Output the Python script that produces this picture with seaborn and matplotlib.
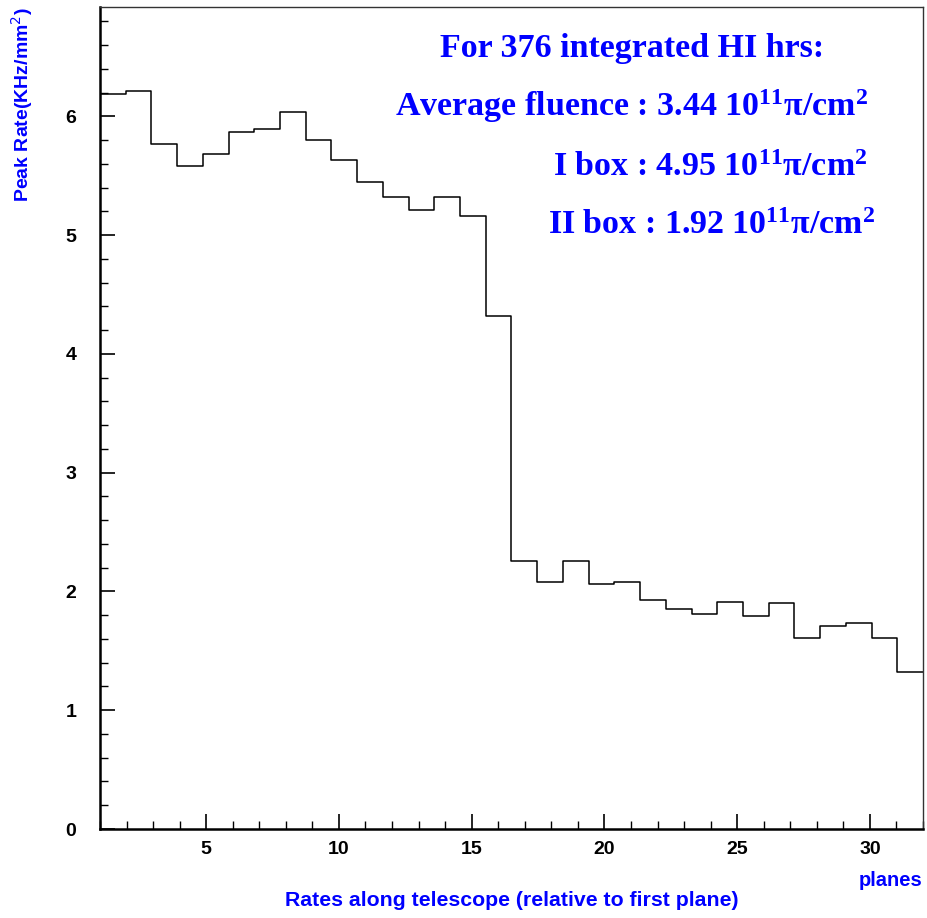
import numpy as np
import pandas as pd
import matplotlib
matplotlib.use("Agg")
import matplotlib.pyplot as plt
import seaborn as sns
from matplotlib.ticker import MultipleLocator

# ---- data ----
x_min, x_max = 1, 32
n_bins = 32
rates = [6.19, 6.21, 5.77, 5.58, 5.68, 5.87, 5.89, 6.04, 5.80, 5.63,
         5.45, 5.32, 5.21, 5.32, 5.16, 4.32, 2.26, 2.08, 2.26, 2.06,
         2.08, 1.93, 1.85, 1.81, 1.91, 1.79, 1.90, 1.61, 1.71, 1.73,
         1.61, 1.32]
x_ticks = [5, 10, 15, 20, 25, 30]
y_ticks = [0, 1, 2, 3, 4, 5, 6]
info_lines = ["For 376 integrated HI hrs:",
              "Average fluence : 3.44 10$^{11}$π/cm$^{2}$",
              "I box : 4.95 10$^{11}$π/cm$^{2}$",
              "II box : 1.92 10$^{11}$π/cm$^{2}$"]

edges = np.linspace(x_min, x_max, n_bins + 1)
centers = (edges[:-1] + edges[1:]) / 2
df = pd.DataFrame({"plane": centers, "rate": rates})

sns.set_style("ticks")
plt.rcParams["mathtext.fontset"] = "custom"
plt.rcParams["mathtext.rm"] = "Liberation Serif:bold"
plt.rcParams["mathtext.it"] = "Liberation Serif:bold"
plt.rcParams["mathtext.bf"] = "Liberation Serif:bold"
plt.rcParams["mathtext.default"] = "rm"

W, H = 927, 918
fig = plt.figure(figsize=(W / 100, H / 100), dpi=100)
ax = fig.add_axes([100 / W, 1 - 829 / H, (923 - 100) / W, (829 - 7) / H])

sns.histplot(data=df, x="plane", weights="rate", bins=edges.tolist(), element="step",
             fill=False, color="black", linewidth=1.1, ax=ax)

ax.set_xlim(x_min, x_max)
ax.set_ylim(0, 6.92)
ax.set_xticks(x_ticks)
ax.set_yticks(y_ticks)
ax.xaxis.set_minor_locator(MultipleLocator(1))
ax.yaxis.set_minor_locator(MultipleLocator(0.2))
ax.tick_params(axis="both", which="major", direction="in", length=11, width=1.2,
               labelsize=14, pad=9, color="black", labelcolor="black")
ax.tick_params(axis="both", which="minor", direction="in", length=5.5, width=1,
               color="black")
for lab in ax.get_xticklabels() + ax.get_yticklabels():
    lab.set_fontweight("bold")
    lab.set_fontfamily("Liberation Sans")
ax.tick_params(axis="y", pad=17)
for s in ["left", "bottom"]:
    ax.spines[s].set_linewidth(1.8)
    ax.spines[s].set_color("black")
for s in ["top", "right"]:
    ax.spines[s].set_linewidth(1.0)
    ax.spines[s].set_color("#333333")
ax.set_xlabel("")
ax.set_ylabel("")

blue = "#0000ff"
fig.text(22 / W, 1 - 7 / H, "Peak Rate(KHz/mm$^{2}$)", rotation=90, ha="center", va="top",
         color=blue, fontsize=14, fontweight="bold", family="Liberation Sans",
         math_fontfamily="dejavusans")
fig.text(512 / W, 1 - 900 / H, "Rates along telescope (relative to first plane)",
         ha="center", va="center", color=blue, fontsize=15.3, fontweight="bold",
         family="Liberation Sans")
fig.text(922 / W, 1 - 880 / H, "planes", ha="right", va="center", color=blue,
         fontsize=14.5, fontweight="bold", family="Liberation Sans")

# info text
fs = 24.5
fig.text(632 / W, 1 - 57 / H, info_lines[0], ha="center", va="baseline", color=blue,
         fontsize=fs, fontweight="bold", family="Liberation Serif")
fig.text(868 / W, 1 - 116 / H, info_lines[1], ha="right", va="baseline", color=blue,
         fontsize=fs, fontweight="bold", family="Liberation Serif")
fig.text(867 / W, 1 - 176 / H, info_lines[2], ha="right", va="baseline", color=blue,
         fontsize=fs, fontweight="bold", family="Liberation Serif")
fig.text(875 / W, 1 - 234 / H, info_lines[3], ha="right", va="baseline", color=blue,
         fontsize=fs, fontweight="bold", family="Liberation Serif")

fig.savefig("out.png", dpi=100, facecolor="white")
